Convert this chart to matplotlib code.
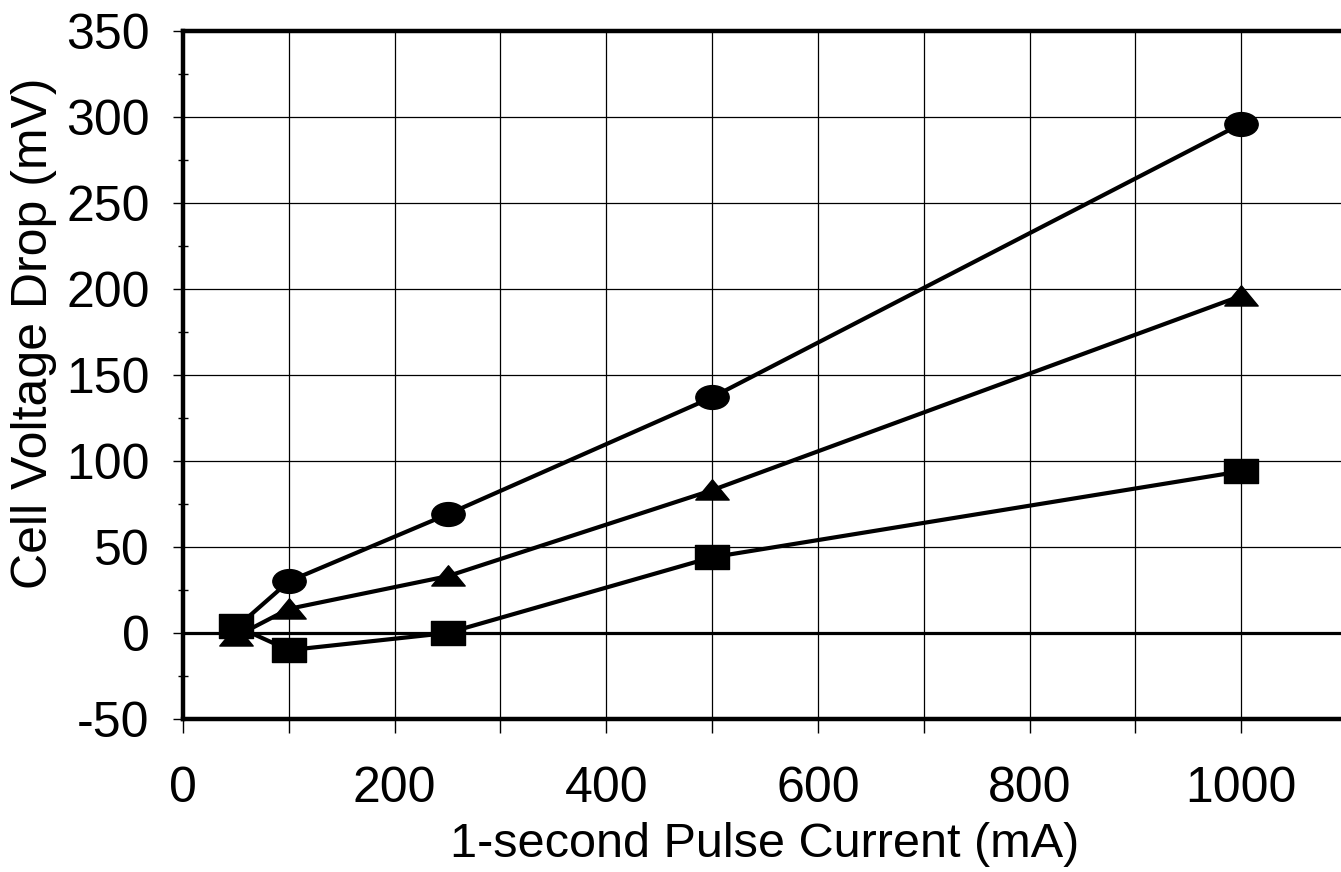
import numpy as np
import matplotlib
matplotlib.use("Agg")
import matplotlib.pyplot as plt
from matplotlib.path import Path
from matplotlib.transforms import Affine2D

plt.rcParams['font.family'] = ['Liberation Sans', 'DejaVu Sans']
plt.rcParams['axes.unicode_minus'] = False

# pulse current (mA) and cell voltage drop (mV)
current = [50, 100, 250, 500, 1000]
drop_circle = [3, 30, 69, 137, 296]
drop_triangle = [-2, 14, 33, 83, 196]
drop_square = [4, -10, 0, 44, 94]

xticks_major = [0, 200, 400, 600, 800, 1000]
yticks_major = [-50, 0, 50, 100, 150, 200, 250, 300, 350]

# markers in the scan are stretched sideways
stretch = Affine2D().scale(1.4, 1.0)
m_circle = Path.unit_circle().transformed(stretch)
m_triangle = Path([(-1, -0.8), (1, -0.8), (0, 0.9), (-1, -0.8)],
                  [Path.MOVETO, Path.LINETO, Path.LINETO, Path.CLOSEPOLY]).transformed(stretch)
m_square = Path.unit_rectangle().transformed(Affine2D().translate(-0.5, -0.5).scale(1.4, 1.0))

fig = plt.figure(figsize=(13.41, 8.72), dpi=100)
ax = fig.add_axes([0.1365, 0.1755, 0.868, 0.789])

ax.set_xlim(0, 1100)
ax.set_ylim(-50, 350)

ax.set_xticks(np.arange(0, 1101, 100), minor=True)
ax.set_xticks(xticks_major)
ax.set_yticks(yticks_major)
ax.set_yticks(np.arange(-50, 351, 25), minor=True)

ax.grid(True, which='major', axis='y', color='black', lw=0.9)
ax.grid(True, which='minor', axis='x', color='black', lw=0.9)
ax.grid(True, which='major', axis='x', color='black', lw=0.9)
ax.axhline(0, color='black', lw=2.3, zorder=2)

for y, mk in [(drop_circle, m_circle), (drop_triangle, m_triangle), (drop_square, m_square)]:
    ax.plot(current, y, color='black', lw=3.0, marker=mk, markersize=24,
            markerfacecolor='black', markeredgecolor='black', zorder=3, clip_on=False)

for side in ['left', 'top', 'bottom']:
    ax.spines[side].set_linewidth(3.2)
ax.spines['right'].set_visible(False)

ax.tick_params(axis='y', which='major', direction='out', length=7, width=1, labelsize=36, pad=17)
ax.tick_params(axis='y', which='minor', direction='inout', length=7, width=1)
ax.tick_params(axis='x', which='both', direction='out', length=10, width=1)
ax.tick_params(axis='x', which='major', labelsize=36, pad=24)

ax.set_xlabel('1-second Pulse Current (mA)', fontsize=35, labelpad=7)
ax.set_ylabel('Cell Voltage Drop (mV)', fontsize=36, labelpad=8)
ax.yaxis.set_label_coords(-0.108, 0.56)

fig.savefig('out.png', dpi=100)
